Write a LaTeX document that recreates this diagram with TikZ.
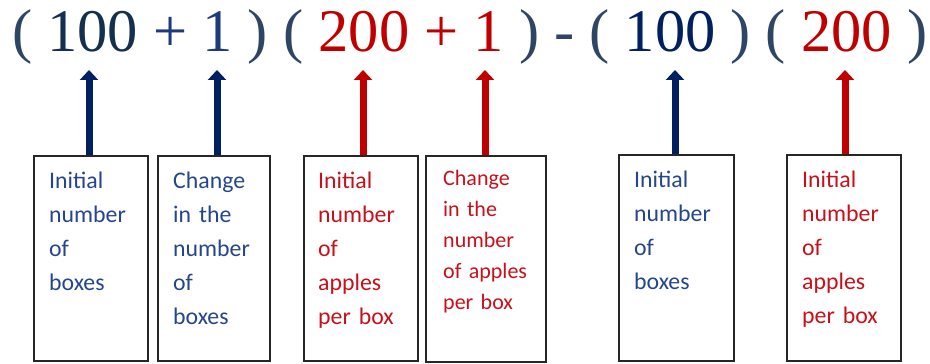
\documentclass[tikz,border=0pt]{standalone}
\usepackage{fontspec}
\setmainfont{Liberation Serif}
\newfontfamily\boxfont{Carlito}
\usetikzlibrary{arrows.meta}
\definecolor{parcol}{HTML}{2E4566}
\definecolor{numA}{HTML}{14304F}
\definecolor{numB}{HTML}{1F3A7C}
\definecolor{navy}{HTML}{002060}
\definecolor{redc}{HTML}{C00000}
\definecolor{boxblue}{HTML}{24468C}
\definecolor{boxred}{HTML}{C8101A}
\definecolor{edge}{HTML}{262626}
\tikzset{
  x=1pt, y=1pt,
  frame/.style={draw=edge, line width=1.5pt, anchor=south west, inner sep=0pt},
  lbl/.style={anchor=base west, inner sep=0pt, text width=115pt, align=left,
    font=\boxfont\fontsize{23.8}{34}\selectfont},
  lblsmall/.style={lbl, font=\boxfont\fontsize{22}{31}\selectfont},
  uparrow/.style={line width=7pt, -{Triangle[width=18pt,length=10pt]}},
}
\begin{document}
\begin{tikzpicture}
\useasboundingbox (0,0) rectangle (930,364);
\node[anchor=base west, inner sep=0pt, font=\fontsize{60.5}{60}\selectfont] (formula) at (12,312)
 {\textcolor{parcol}{(} \textcolor{numA}{100} \textcolor{numB}{+ 1} \textcolor{parcol}{)} \textcolor{parcol}{(} \textcolor{redc}{200 + 1} \textcolor{parcol}{)} \textcolor{parcol}{-} \textcolor{parcol}{(} \textcolor{navy}{100} \textcolor{parcol}{)} \textcolor{parcol}{(} \textcolor{redc}{200} \textcolor{parcol}{)}};

% boxes
\node[frame, minimum width=114pt, minimum height=205pt] (b1) at (33,2) {};
\node[frame, minimum width=112pt, minimum height=205pt] (b2) at (157,2) {};
\node[frame, minimum width=114pt, minimum height=205pt] (b3) at (303,2) {};
\node[frame, minimum width=120pt, minimum height=206pt] (b4) at (425,1) {};
\node[frame, minimum width=115pt, minimum height=206pt] (b5) at (618,2) {};
\node[frame, minimum width=114pt, minimum height=206pt] (b6) at (786,2) {};

% labels
\node[lbl, text=boxblue] (t1) at (49,175) {Initial\\number\\of\\boxes};
\node[lbl, text=boxblue] (t2) at (173,175) {Change\\in the\\number\\of\\boxes};
\node[lbl, text=boxred] (t3) at (318,175) {Initial\\number\\of\\apples\\per box};
\node[lblsmall, text=boxred] (t4) at (443,178) {Change\\in the\\number\\of apples\\per box};
\node[lbl, text=boxblue] (t5) at (634,176) {Initial\\number\\of\\boxes};
\node[lbl, text=boxred] (t6) at (802,176) {Initial\\number\\of\\apples\\per box};

% arrow tips
\coordinate (a1) at (89,294);
\coordinate (a2) at (217,294);
\coordinate (a3) at (363,294);
\coordinate (a4) at (485,294);
\coordinate (a5) at (675,294);
\coordinate (a6) at (845,294);

\draw[uparrow, navy] (a1 |- b1.north) -- (a1);
\draw[uparrow, navy] (a2 |- b2.north) -- (a2);
\draw[uparrow, redc] (a3 |- b3.north) -- (a3);
\draw[uparrow, redc] (a4 |- b4.north) -- (a4);
\draw[uparrow, navy] (a5 |- b5.north) -- (a5);
\draw[uparrow, redc] (a6 |- b6.north) -- (a6);
\end{tikzpicture}
\end{document}
